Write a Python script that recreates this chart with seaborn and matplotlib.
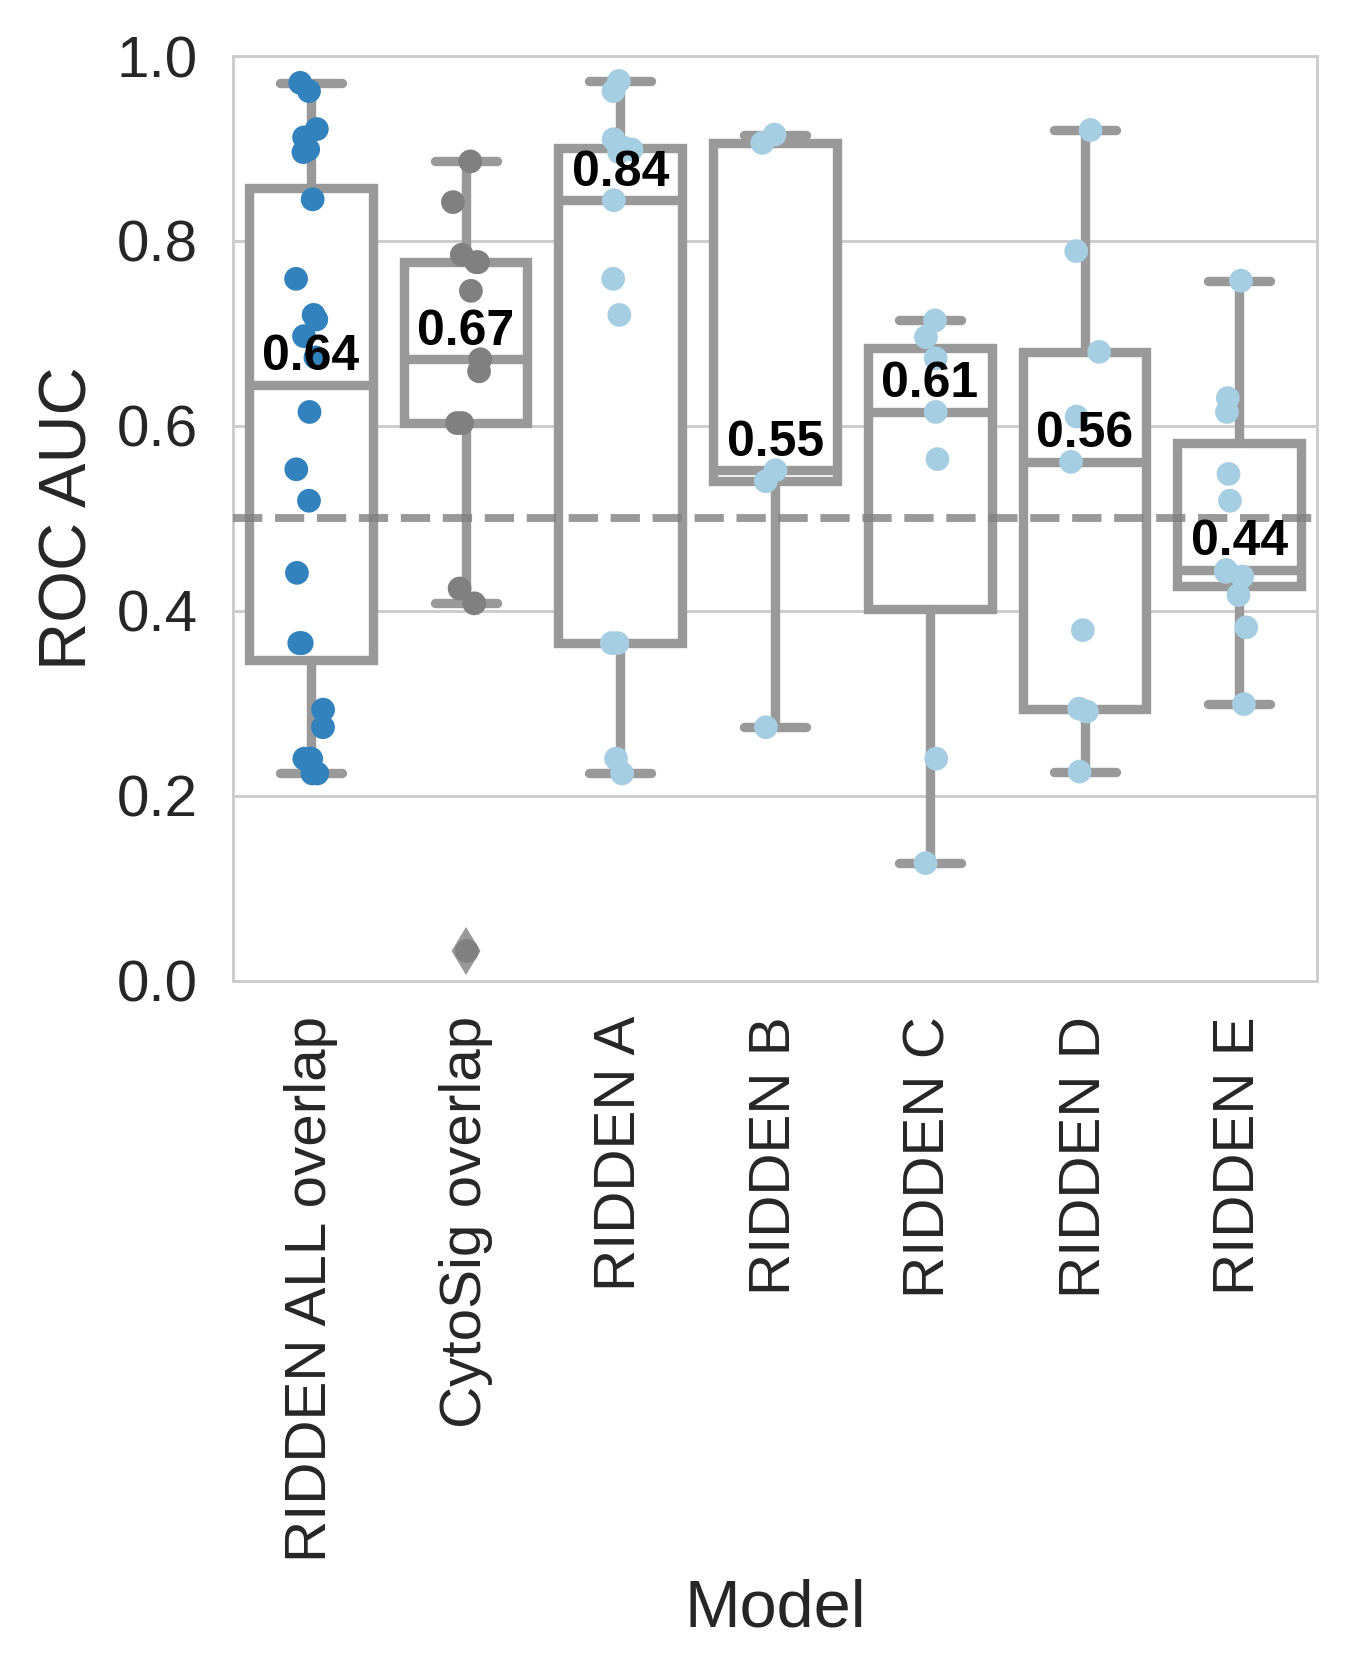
import numpy as np
import pandas as pd
import matplotlib
matplotlib.use("Agg")
import matplotlib.pyplot as plt
import seaborn as sns

# ---------------- data ----------------
models = ["RIDDEN ALL overlap", "CytoSig overlap", "RIDDEN A", "RIDDEN B",
          "RIDDEN C", "RIDDEN D", "RIDDEN E"]

ridden_all = [0.224, 0.224, 0.240, 0.240, 0.274, 0.293, 0.365, 0.365, 0.441,
              0.519, 0.553, 0.615, 0.674, 0.697, 0.715, 0.720, 0.759, 0.845,
              0.896, 0.899, 0.912, 0.921, 0.962, 0.971]
cytosig = [0.032, 0.408, 0.424, 0.603, 0.603, 0.659, 0.672, 0.746, 0.777,
           0.777, 0.785, 0.842, 0.886]
ridden_a = [0.224, 0.240, 0.365, 0.365, 0.720, 0.759, 0.844, 0.896, 0.899,
            0.901, 0.910, 0.962, 0.973]
ridden_b = [0.274, 0.540, 0.552, 0.906, 0.915]
ridden_c = [0.127, 0.240, 0.564, 0.615, 0.673, 0.696, 0.714]
ridden_d = [0.226, 0.291, 0.294, 0.379, 0.561, 0.610, 0.680, 0.789, 0.920]
ridden_e = [0.299, 0.382, 0.417, 0.437, 0.442, 0.444, 0.519, 0.548, 0.615,
            0.630, 0.757]

point_colors = ["#3182bd", "#808080", "#a6cee3", "#a6cee3", "#a6cee3",
                "#a6cee3", "#a6cee3"]

y_ticks = [0.0, 0.2, 0.4, 0.6, 0.8, 1.0]
chance_level = 0.5

groups = [ridden_all, cytosig, ridden_a, ridden_b, ridden_c, ridden_d, ridden_e]
df = pd.DataFrame({
    "Model": np.concatenate([[m] * len(v) for m, v in zip(models, groups)]),
    "ROC AUC": np.concatenate(groups),
})

# ---------------- style ----------------
sns.set_theme(style="whitegrid")
plt.rcParams["font.family"] = ["Liberation Sans", "DejaVu Sans"]
plt.rcParams["axes.edgecolor"] = "#cccccc"
plt.rcParams["axes.linewidth"] = 0.7
plt.rcParams["grid.linewidth"] = 0.7
plt.rcParams["grid.color"] = "#cccccc"

fig = plt.figure(figsize=(1351 / 300, 1677 / 300), dpi=300)
ax = fig.add_axes([0.1728, 0.4153, 0.8018, 0.5513])

gray = "#999999"
lw = 2.25
sns.boxplot(
    data=df, x="Model", y="ROC AUC", order=models, color="white",
    linecolor=gray, linewidth=lw, width=0.8, fliersize=6.7,
    flierprops=dict(marker="d", markerfacecolor=gray, markeredgecolor=gray),
    capprops=dict(solid_capstyle="round"),
    whiskerprops=dict(solid_capstyle="round"),
    ax=ax,
)

np.random.seed(3)
sns.stripplot(
    data=df, x="Model", y="ROC AUC", order=models, hue="Model",
    hue_order=models, palette=dict(zip(models, point_colors)),
    size=5.7, jitter=0.1, linewidth=0, legend=False, ax=ax, zorder=4,
)

ax.axhline(chance_level, color="gray", linestyle="--", linewidth=1.9,
           alpha=0.8, zorder=5)

for i, vals in enumerate(groups):
    med = np.median(vals)
    ax.text(i, med + 0.005, f"{med:.2f}", ha="center", va="bottom",
            fontsize=12, fontweight="bold", color="black", zorder=10)

ax.set_ylim(0, 1)
ax.set_xlim(-0.5, len(models) - 0.5)
ax.set_yticks(y_ticks)
ax.set_yticklabels([f"{t:.1f}" for t in y_ticks])
ax.tick_params(axis="both", labelsize=14, pad=8.5, length=0)
plt.setp(ax.get_xticklabels(), rotation=90)
ax.set_xlabel("Model", fontsize=16)
ax.set_ylabel("ROC AUC", fontsize=16)
ax.xaxis.grid(False)

fig.savefig("out.png", dpi=300)
